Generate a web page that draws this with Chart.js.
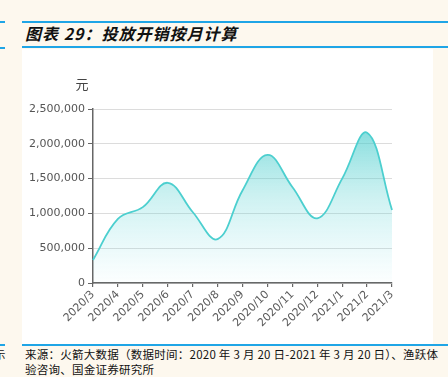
<!DOCTYPE html>
<html>
<head>
<meta charset="utf-8">
<script src="https://cdn.jsdelivr.net/npm/chart.js@4/dist/chart.umd.min.js"></script>
<style>
  html, body { margin: 0; padding: 0; }
  body { width: 448px; height: 377px; background: #fdf8ee; position: relative; overflow: hidden; font-family: "Noto Sans CJK SC", sans-serif; }
  .hl { position: absolute; height: 2px; background: #1fa5e6; }
  #panel { position: absolute; left: 22px; top: 49px; width: 411px; height: 295px; background: #ffffff; }
  #chart { position: absolute; left: 22px; top: 48px; }
  #title { position: absolute; left: 25px; top: 21px; font-size: 16px; font-weight: bold; font-style: italic; color: #111; white-space: nowrap; line-height: 24px; letter-spacing: 1px; }
  #note { position: absolute; left: 25px; top: 347px; font-size: 11.5px; color: #111; line-height: 15px; white-space: nowrap; letter-spacing: 0.25px; }
  #frag { position: absolute; left: -6px; top: 347px; font-size: 11.5px; color: #111; line-height: 15px; }
</style>
</head>
<body>
<div class="hl" style="left:0;width:5px;top:21px;"></div>
<div class="hl" style="left:22px;width:426px;top:21px;"></div>
<div class="hl" style="left:0;width:5px;top:47px;"></div>
<div class="hl" style="left:22px;width:426px;top:46px;"></div>
<div class="hl" style="left:0;width:5px;top:344px;"></div>
<div class="hl" style="left:22px;width:426px;top:344px;"></div>
<div id="panel"></div>
<div id="title">图表 29：投放开销按月计算</div>
<div id="frag">示</div>
<div id="note">来源：火箭大数据（数据时间：2020 年 3 月 20 日-2021 年 3 月 20 日）、渔跃体<br>验咨询、国金证券研究所</div>
<canvas id="chart" width="411" height="296"></canvas>
<script>
const categories = ["2020/3","2020/4","2020/5","2020/6","2020/7","2020/8","2020/9","2020/10","2020/11","2020/12","2021/1","2021/2","2021/3"];
const spend = [330000, 920000, 1090000, 1440000, 1020000, 630000, 1330000, 1840000, 1380000, 930000, 1500000, 2160000, 1050000];
const yUnit = "元";
const yMax = 2500000;
const yStep = 500000;

const ctx = document.getElementById('chart').getContext('2d');

const unitPlugin = {
  id: 'unitLabel',
  afterDraw(chart) {
    const c = chart.ctx;
    const a = chart.chartArea;
    c.save();
    c.font = '13px "Noto Sans CJK SC"';
    c.fillStyle = '#444';
    c.textAlign = 'center';
    c.textBaseline = 'middle';
    c.fillText(yUnit, a.left - 11, a.top - 25);
    c.restore();
  }
};

new Chart(ctx, {
  type: 'line',
  data: {
    labels: categories,
    datasets: [{
      data: spend,
      borderColor: '#4ccfcf',
      borderWidth: 1.8,
      tension: 0.4,
      pointRadius: 0,
      fill: 'origin',
      backgroundColor: function(context) {
        const chart = context.chart;
        const a = chart.chartArea;
        if (!a) return 'rgba(70,200,200,0.3)';
        const g = chart.ctx.createLinearGradient(0, a.top, 0, a.bottom);
        g.addColorStop(0, 'rgba(60,200,200,0.75)');
        g.addColorStop(0.5, 'rgba(90,210,210,0.3)');
        g.addColorStop(1, 'rgba(120,220,230,0.02)');
        return g;
      }
    }]
  },
  options: {
    responsive: false,
    animation: false,
    devicePixelRatio: 1,
    layout: { padding: { top: 61, right: 41, left: 0, bottom: 0 } },
    plugins: { legend: { display: false }, tooltip: { enabled: false } },
    scales: {
      x: {
        offset: false,
        afterFit(s) { s.height = 61; },
        grid: { drawOnChartArea: false, drawTicks: true, tickLength: 4, tickColor: '#666', lineWidth: 1.2 },
        border: { color: '#666', width: 1.5 },
        ticks: { autoSkip: false, minRotation: 45, maxRotation: 45, padding: 1, color: '#5a5a5a', font: { family: '"DejaVu Sans"', size: 11 } }
      },
      y: {
        min: 0, max: yMax,
        afterFit(s) { s.width = 71; },
        grid: { color: '#dcdcdc', lineWidth: 1, tickLength: 5, tickColor: '#666' },
        border: { color: '#666', width: 1.5 },
        ticks: {
          stepSize: yStep, padding: 3, color: '#555',
          font: { family: '"DejaVu Sans"', size: 11 },
          callback: v => v.toLocaleString('en-US')
        }
      }
    }
  },
  plugins: [unitPlugin]
});
</script>
</body>
</html>
